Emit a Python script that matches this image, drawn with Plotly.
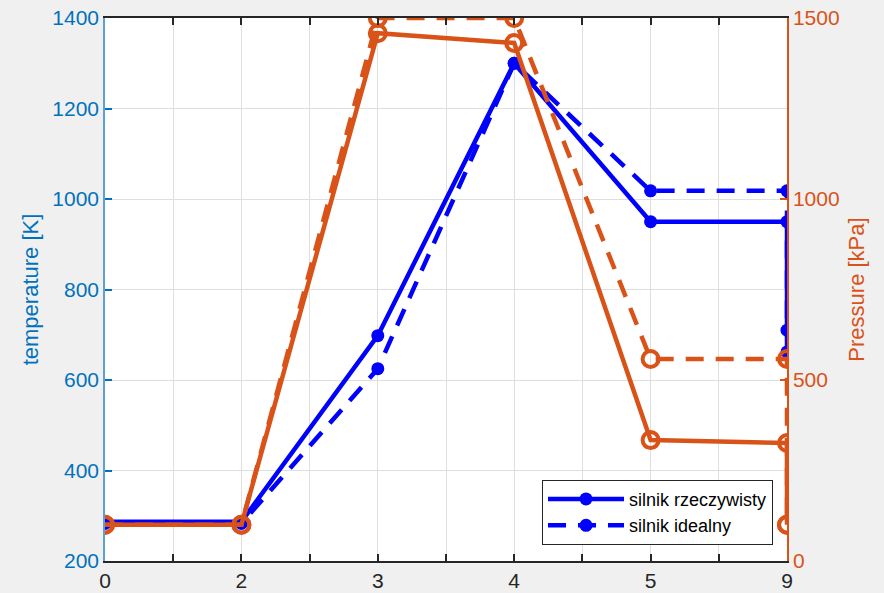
import plotly.graph_objects as go

# x positions (index) and tick labels
x_pos = [0, 1, 2, 3, 4, 5, 5]
x_tick_labels = ["0", "2", "3", "4", "5", "9"]

# Temperature [K]
temp_real = [287, 287, 698, 1300, 950, 950, 662]
temp_ideal = [283, 283, 625, 1300, 1018, 1018, 710]

# Pressure [kPa]
press_real = [100, 100, 1458, 1431, 334, 326, 100]
press_ideal = [100, 100, 1500, 1500, 558, 558, 100]

BLUE = "#0000FF"
ORANGE = "#D95319"
AXBLUE = "#0072BD"
FONT = "Liberation Sans"

fig = go.Figure()
fig.add_trace(go.Scatter(x=x_pos, y=temp_real, mode="lines+markers", name="silnik rzeczywisty",
                         line=dict(color=BLUE, width=4.5),
                         marker=dict(symbol="circle", size=13, color=BLUE), yaxis="y"))
fig.add_trace(go.Scatter(x=x_pos, y=temp_ideal, mode="lines+markers", name="silnik idealny",
                         line=dict(color=BLUE, width=4.5, dash="18px,12px"),
                         marker=dict(symbol="circle", size=13, color=BLUE), yaxis="y"))
fig.add_trace(go.Scatter(x=x_pos, y=press_real, mode="lines+markers", showlegend=False,
                         line=dict(color=ORANGE, width=4.5),
                         marker=dict(symbol="circle-open", size=16, color=ORANGE, line=dict(width=4, color=ORANGE)),
                         yaxis="y2"))
fig.add_trace(go.Scatter(x=x_pos, y=press_ideal, mode="lines+markers", showlegend=False,
                         line=dict(color=ORANGE, width=4.5, dash="18px,12px"),
                         marker=dict(symbol="circle-open", size=16, color=ORANGE, line=dict(width=4, color=ORANGE)),
                         yaxis="y2"))

tickvals = [i * 0.5 for i in range(11)]
ticktext = []
for i in range(11):
    ticktext.append(x_tick_labels[i // 2] if i % 2 == 0 else "")

fig.update_layout(
    width=884, height=593,
    margin=dict(l=105, r=97, t=18, b=32, autoexpand=False),
    paper_bgcolor="#F0F0F0", plot_bgcolor="white",
    font=dict(family=FONT, size=20, color="#262626"),
    showlegend=True,
    legend=dict(x=0.9795, y=0.03, xanchor="right", yanchor="bottom",
                bgcolor="white", bordercolor="#262626", borderwidth=1,
                font=dict(size=18, color="black"), itemwidth=76,
                tracegroupgap=0, itemsizing="trace"),
    xaxis=dict(range=[0, 5], tickvals=tickvals, ticktext=ticktext, automargin=False,
               showgrid=True, gridcolor="#DFDFDF", gridwidth=1,
               showline=True, linecolor="#262626", linewidth=1.5, mirror="ticks",
               ticks="inside", ticklen=7, tickcolor="#262626", tickwidth=1.5,
               tickfont=dict(size=21, color="#262626"), zeroline=False),
    yaxis=dict(range=[200, 1400], dtick=200, showgrid=True, gridcolor="#DFDFDF", automargin=False,
               showline=True, linecolor="#5EA0D0", linewidth=1.5,
               ticks="inside", ticklen=7, tickcolor=AXBLUE, tickwidth=1.5,
               tickfont=dict(size=21, color=AXBLUE), zeroline=False,
               title=dict(text="temperature [K]", font=dict(size=22, color=AXBLUE), standoff=8)),
    yaxis2=dict(range=[0, 1500], tickvals=[0, 500, 1000, 1500], overlaying="y", side="right",
                showgrid=False, showline=True, linecolor=ORANGE, linewidth=1.5, automargin=False,
                ticks="inside", ticklen=7, tickcolor=ORANGE, tickwidth=1.5,
                tickfont=dict(size=21, color=ORANGE), zeroline=False,
                title=dict(text="Pressure [kPa]", font=dict(size=22, color=ORANGE), standoff=10)),
)

fig.write_html(
    "out.html",
    config={"displayModeBar": False},
    post_script="document.body.style.margin='0';document.body.style.background='#F0F0F0';document.body.style.overflow='hidden';",
)
